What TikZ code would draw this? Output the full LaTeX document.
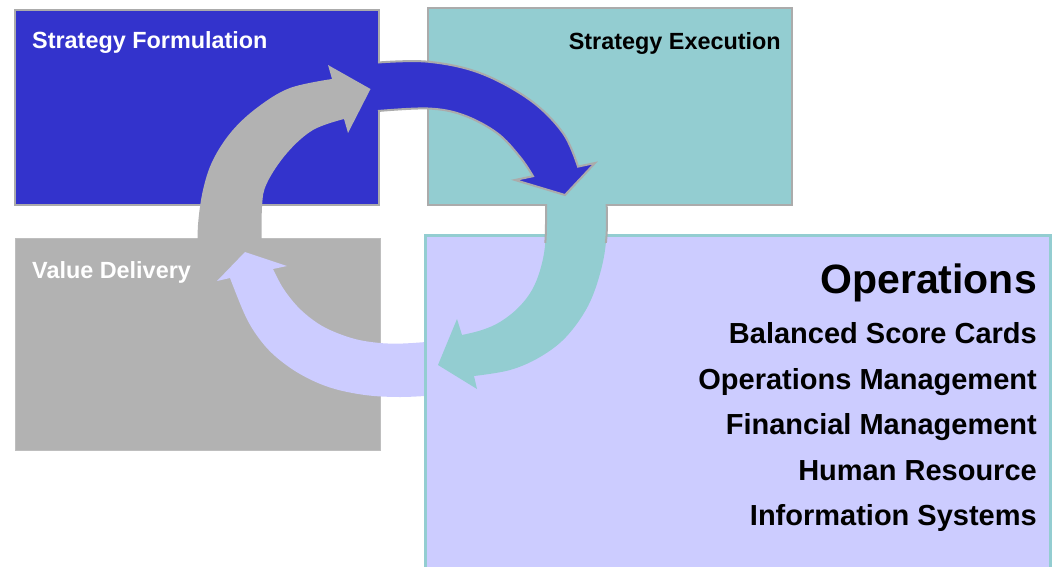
\documentclass[tikz,border=0pt]{standalone}
\usepackage{fontspec}
\setmainfont{Liberation Sans}
\definecolor{sfblue}{HTML}{3333CC}
\definecolor{setea}{HTML}{93CDD1}
\definecolor{vdgray}{HTML}{B2B2B2}
\definecolor{oplav}{HTML}{CCCCFF}
\definecolor{edgegray}{HTML}{ABABAB}
\begin{document}
\begin{tikzpicture}[x=1pt,y=-1pt,
  box/.style={anchor=north west, inner sep=0pt, outer sep=0pt},
  lbl/.style={font=\bfseries\fontsize{23.4}{28}\selectfont, inner sep=0pt},
  big/.style={font=\bfseries\fontsize{41}{48}\selectfont, inner sep=0pt, anchor=base east},
  item/.style={font=\bfseries\fontsize{29}{34}\selectfont, inner sep=0pt, anchor=base east},
  edge/.style={draw=edgegray, line width=2pt, line join=miter},
  sm/.style={smooth, tension=0.6}]
\useasboundingbox (0,0) rectangle (1053,566);

% boxes
\node[box, fill=sfblue, draw=edgegray, line width=2pt, minimum width=364, minimum height=195] (form) at (15,10) {};
\node[box, fill=setea, draw=edgegray, line width=2pt, minimum width=364, minimum height=197] (exec) at (428,8) {};
\node[box, fill=vdgray, draw=vdgray!85!white, line width=1pt, minimum width=365, minimum height=212] (value) at (15,238) {};
\node[box, fill=oplav, minimum width=625, minimum height=345] (ops) at (425.5,235.5) {};

% gray arrow (Value Delivery -> Strategy Formulation)
\fill[vdgray] plot[sm] coordinates {(198,255) (198,225) (203,190) (213,160) (232,131) (258,107) (290,88) (332,79)}
  -- (328,65) -- (370.5,89) -- (348,133)
  -- plot[sm] coordinates {(344,119) (313,130) (287,153) (267,183) (262,207) (262,255)} -- cycle;

% lavender arrow (Operations -> Value Delivery)
\fill[oplav] plot[sm] coordinates {(432,395.5) (400,397) (365,395) (330,387.5) (300,374) (275,356) (258,337) (245,315) (230,278)}
  -- (217,281) -- (245,252) -- (287,266)
  -- plot[sm] coordinates {(273,269) (283,288) (297,306) (313,320) (330,330) (355,339) (380,343) (403,343.5) (432,341.5)} -- cycle;

% operations border
\draw[setea, line width=3pt] (ops.north west) -- (ops.north east) -- (ops.south east) -- (ops.south west) -- cycle;

% teal arrow (Strategy Execution -> Operations)
\fill[setea] plot[sm] coordinates {(606.5,198) (606.5,236) (601,270) (588,306) (566,337) (540,357) (510,370) (474,376)}
  -- (477,389) -- (438,365) -- (457,319)
  -- plot[sm] coordinates {(462,335) (482,330) (500,322) (518,308) (532,290) (541,267) (545.5,240) (546,198)} -- cycle;
\begin{scope}
  \clip (530,204) rectangle (620,242);
  \draw[edge] plot[sm] coordinates {(606.5,198) (606.5,236) (601,270) (588,306)};
  \draw[edge] plot[sm] coordinates {(532,290) (541,267) (545.5,240) (546,198)};
\end{scope}

% blue arrow (Strategy Formulation -> Strategy Execution)
\fill[sfblue] plot[sm] coordinates {(377,62.5) (428,61.7) (480,73) (530,100) (563,133) (578,166.6)}
  -- (595,163) -- (565,195) -- (515,180)
  -- plot[sm] coordinates {(533,176.2) (520,157) (497,133) (463,115) (428,108.5) (377,111)} -- cycle;
\draw[edge] plot[sm] coordinates {(378,62.5) (428,61.7) (480,73) (530,100) (563,133) (578,166.6)}
  -- (595,163) -- (565,195) -- (515,180)
  -- plot[sm] coordinates {(533,176.2) (520,157) (497,133) (463,115) (428,108.5) (378,111)};

% labels
\node[lbl, white, anchor=base west] (tform) at (32,48) {Strategy Formulation};
\node[lbl, black, anchor=base east] (texec) at (781,49.5) {Strategy Execution};
\node[lbl, white, anchor=base west] (tvalue) at (32,278) {Value Delivery};
\node[big] (tops) at (1037,293) {Operations};
\node[item] (i1) at (1037,343) {Balanced Score Cards};
\node[item] (i2) at (1037,389) {Operations Management};
\node[item] (i3) at (1037,434.5) {Financial Management};
\node[item] (i4) at (1037,480) {Human Resource};
\node[item] (i5) at (1037,525.5) {Information Systems};
\end{tikzpicture}
\end{document}
